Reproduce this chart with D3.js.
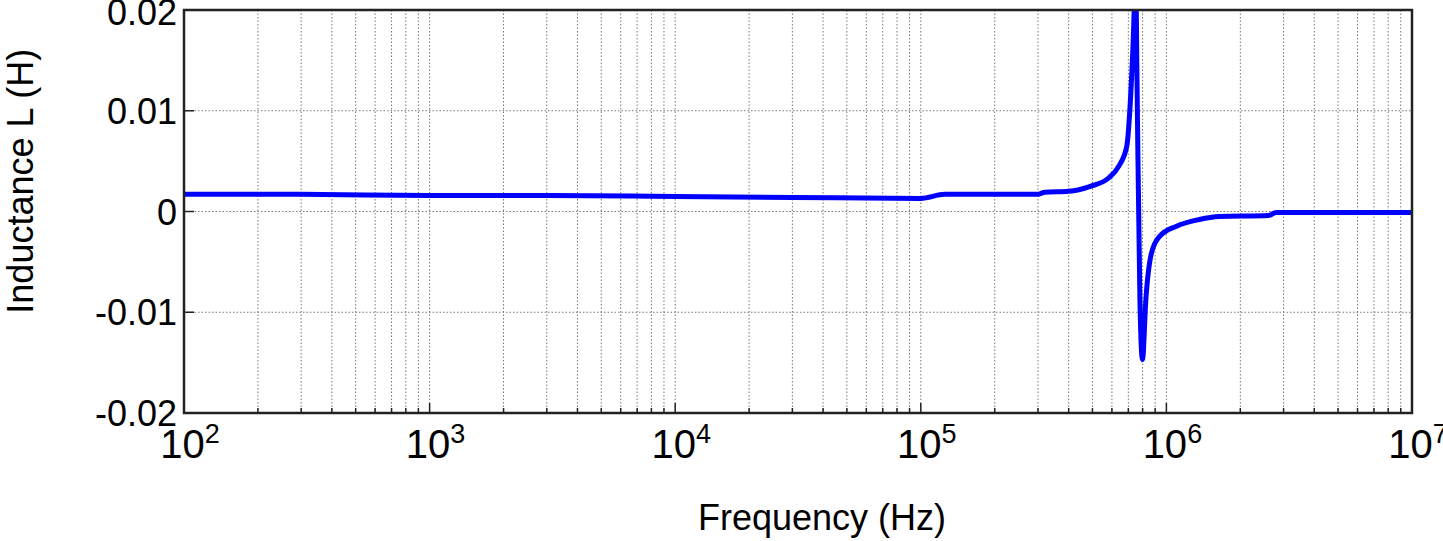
<!DOCTYPE html>
<html><head><meta charset="utf-8">
<script src="https://cdn.jsdelivr.net/npm/d3@7"></script>
<style>body{margin:0;background:#fff}text{font-family:"Liberation Sans",Arial,sans-serif}</style>
</head><body><div id="chart"></div>
<script>
var freq = [100, 300, 1000, 3000, 1e4, 3e4, 1e5, 1.25e5, 2e5, 2.97e5, 3.2e5, 4.0e5, 4.9e5, 5.8e5, 6.4e5, 6.9e5, 7.1e5, 7.3e5, 7.5e5, 7.6e5, 7.8e5, 7.99e5, 8.25e5, 8.7e5, 9.4e5, 1.1e6, 1.36e6, 1.64e6, 2.6e6, 2.8e6, 5e6, 1e7];
var induct = [0.0017, 0.0017, 0.0016, 0.0016, 0.0015, 0.0014, 0.0013, 0.0017, 0.0017, 0.0017, 0.0019, 0.002, 0.0025, 0.0033, 0.0045, 0.0065, 0.0101, 0.016, 0.023, 0.012, -0.0087, -0.0147, -0.0087, -0.0041, -0.00245, -0.00146, -0.0008, -0.0005, -0.0004, -0.0001, -0.0001, -0.0001];
var yTicks = [-0.02, -0.01, 0, 0.01, 0.02];
var xTicks = [1e2, 1e3, 1e4, 1e5, 1e6, 1e7];

(function (){
    var width = 1443, height = 541;
    var m = {left: 184, right: 31, top: 10, bottom: 128};
    var svg = d3.select("#chart").append("svg")
        .attr("width", width).attr("height", height);
    var x = d3.scaleLog().domain([1e2, 1e7]).range([m.left, width - m.right]);
    var y = d3.scaleLinear().domain([-0.02, 0.02]).range([height - m.bottom, m.top]);

    // minor + major grid
    var minor = [];
    for (var e = 2; e < 7; e++) for (var k = 1; k < 10; k++) minor.push(k * Math.pow(10, e));
    svg.append("g").selectAll("line").data(minor.slice(1)).enter().append("line")
        .attr("x1", d => x(d)).attr("x2", d => x(d))
        .attr("y1", y(0.02)).attr("y2", y(-0.02))
        .attr("stroke", "#777").attr("stroke-dasharray", "1.5,2");
    svg.append("g").selectAll("line").data(yTicks).enter().append("line")
        .attr("x1", x(1e2)).attr("x2", x(1e7))
        .attr("y1", d => y(d)).attr("y2", d => y(d))
        .attr("stroke", "#777").attr("stroke-dasharray", "1.5,2");

    // inward ticks
    svg.append("g").selectAll("line").data(minor).enter().append("line")
        .attr("x1", d => x(d)).attr("x2", d => x(d))
        .attr("y1", y(-0.02)).attr("y2", d => y(-0.02) - (xTicks.indexOf(d) >= 0 ? 10 : 5))
        .attr("stroke", "#222").attr("stroke-width", 1.5);
    svg.append("g").selectAll("line").data(yTicks).enter().append("line")
        .attr("x1", x(1e2)).attr("x2", x(1e2) + 10)
        .attr("y1", d => y(d)).attr("y2", d => y(d))
        .attr("stroke", "#222").attr("stroke-width", 1.5);

    svg.append("defs").append("clipPath").attr("id", "clip").append("rect")
        .attr("x", x(1e2)).attr("y", y(0.02)).attr("width", x(1e7) - x(1e2)).attr("height", y(-0.02) - y(0.02));

    var line = d3.line().x((d, i) => x(freq[i])).y(d => y(d)).curve(d3.curveMonotoneX);
    svg.append("path").datum(induct).attr("d", line).attr("clip-path", "url(#clip)")
        .attr("fill", "none").attr("stroke", "#0000ff").attr("stroke-width", 5).attr("stroke-linejoin", "round");

    svg.append("rect").attr("x", x(1e2)).attr("y", y(0.02))
        .attr("width", x(1e7) - x(1e2)).attr("height", y(-0.02) - y(0.02))
        .attr("fill", "none").attr("stroke", "#222").attr("stroke-width", 2.5);

    svg.append("g").selectAll("text").data(yTicks).enter().append("text")
        .attr("x", 177).attr("y", d => y(d) + (d === 0.02 ? 15 : 13)).attr("text-anchor", "end")
        .attr("font-size", 36).text(d => d === 0 ? "0" : d3.format(".2f")(d).replace("−", "-"));

    var xt = svg.append("g").selectAll("text").data(xTicks).enter().append("text")
        .attr("x", d => x(d) + 6).attr("y", 458).attr("text-anchor", "middle").attr("font-size", 40);
    xt.append("tspan").text("10");
    xt.append("tspan").attr("dy", -15).attr("font-size", 27).text(d => Math.round(Math.log10(d)));

    svg.append("text").attr("x", x(Math.pow(10, 4.5)) + 24).attr("y", 530).attr("text-anchor", "middle")
        .attr("font-size", 36).text("Frequency (Hz)");
    svg.append("text").attr("transform", "translate(33," + y(0.003) + ") rotate(-90)")
        .attr("text-anchor", "middle").attr("font-size", 36).text("Inductance L (H)");
})();
</script></body></html>
